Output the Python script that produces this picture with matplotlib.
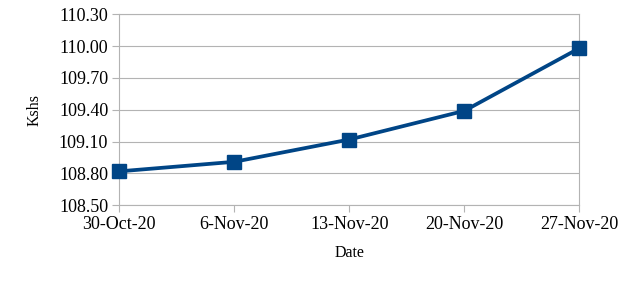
import matplotlib
matplotlib.use("Agg")
import matplotlib.pyplot as plt

dates = ["30-Oct-20", "6-Nov-20", "13-Nov-20", "20-Nov-20", "27-Nov-20"]
values = [108.82, 108.91, 109.12, 109.39, 109.98]
yticks = [108.50, 108.80, 109.10, 109.40, 109.70, 110.00, 110.30]

plt.rcParams['font.family'] = ['Liberation Serif', 'DejaVu Serif']

fig = plt.figure(figsize=(6.32, 2.83), dpi=100)
ax = fig.add_axes([119.3/632, 1 - 205.3/283, (579.3-119.3)/632, (205.3-14.3)/283])

x = list(range(len(dates)))
ax.plot(x, values, color="#004586", linewidth=2.7, marker="s", markersize=9.5, clip_on=False, zorder=3)

ax.set_xlim(0, len(dates) - 1)
ax.set_ylim(yticks[0], yticks[-1])
ax.set_yticks(yticks)
ax.set_yticklabels([f"{v:.2f}" for v in yticks])
ax.set_xticks(x)
ax.set_xticklabels(dates)

ax.grid(axis="y", color="#b3b3b3", linewidth=0.8)
ax.set_axisbelow(True)
for s in ax.spines.values():
    s.set_color("#b3b3b3")
    s.set_linewidth(0.8)
ax.tick_params(axis="both", colors="#b3b3b3", labelcolor="black", labelsize=13, length=5, width=0.8)
ax.tick_params(axis="y", pad=3)
ax.tick_params(axis="x", pad=3)

ax.set_xlabel("Date", fontsize=11.5, labelpad=8)
ax.set_ylabel("Kshs", fontsize=11.5, labelpad=12)

fig.savefig("out.png", dpi=100)
